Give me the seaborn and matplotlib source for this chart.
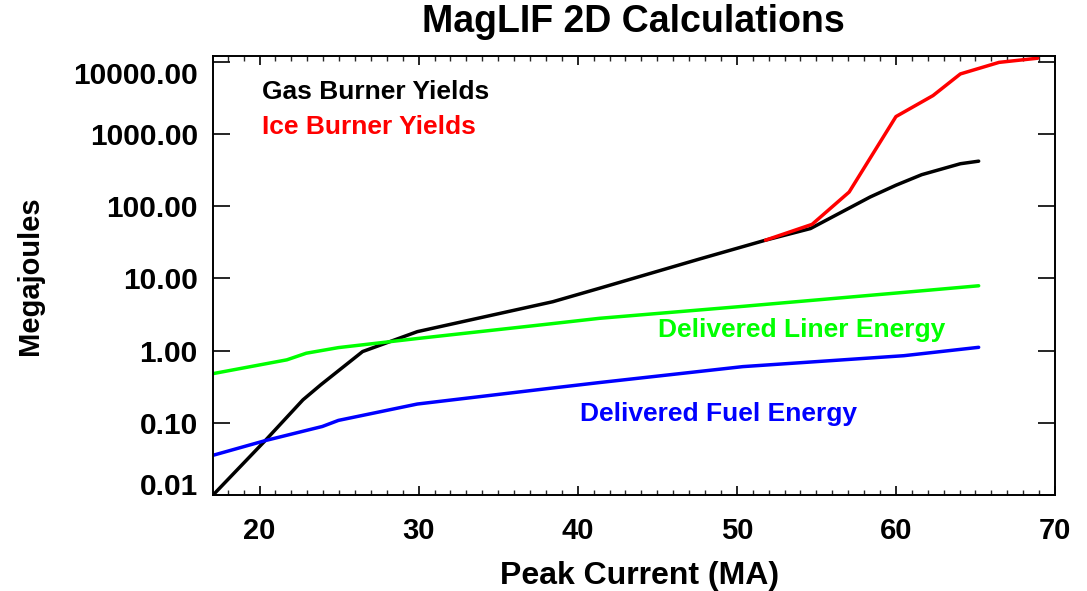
import numpy as np
import pandas as pd
import matplotlib
matplotlib.use("Agg")
import matplotlib.pyplot as plt
from matplotlib.ticker import FixedLocator, MultipleLocator, FuncFormatter, NullLocator
import seaborn as sns

# Gas burner yields (MJ) vs peak current (MA)
gas_current = [17.08, 20.4, 22.73, 23.85, 26.48, 29.92, 38.43, 41.37, 47.64, 51.8, 54.63, 58.38, 60.0, 61.62, 64.05, 65.2]
gas_yield = [0.01, 0.058, 0.208, 0.336, 0.97, 1.83, 4.75, 7.3, 18.5, 33.8, 49.0, 134.0, 195.0, 273.0, 387.0, 420.0]

# Ice burner yields (MJ)
ice_current = [51.8, 54.73, 57.06, 60.0, 62.33, 64.05, 66.48, 68.91]
ice_yield = [33.8, 56.0, 157.0, 1740.0, 3400.0, 6780.0, 9800.0, 11200.0]

# Delivered liner energy (MJ)
liner_current = [17.08, 21.72, 22.94, 24.96, 29.92, 38.23, 41.37, 50.38, 60.5, 65.2]
liner_energy = [0.48, 0.745, 0.92, 1.1, 1.47, 2.34, 2.8, 4.1, 6.4, 7.9]

# Delivered fuel energy (MJ)
fuel_current = [17.08, 20.4, 23.95, 24.96, 29.92, 38.23, 41.37, 50.38, 60.5, 65.2]
fuel_energy = [0.0355, 0.057, 0.089, 0.108, 0.182, 0.30, 0.361, 0.60, 0.85, 1.11]

x_ticks = [20, 30, 40, 50, 60, 70]
y_ticks = [0.01, 0.1, 1, 10, 100, 1000, 10000]

sns.set_theme(style="white")
plt.rcParams["font.family"] = ["Liberation Sans", "DejaVu Sans"]
plt.rcParams["font.weight"] = "bold"
plt.rcParams["text.color"] = "black"
plt.rcParams["axes.labelcolor"] = "black"

fig = plt.figure(figsize=(10.87, 5.91), dpi=100)
ax = fig.add_axes([0.196, 0.1624, 0.7746, 0.7428])

series = [
    (gas_current, gas_yield, "#000000"),
    (liner_current, liner_energy, "#00ff00"),
    (fuel_current, fuel_energy, "#0000ff"),
    (ice_current, ice_yield, "#ff0000"),
]
for xs, ys, col in series:
    df = pd.DataFrame({"current": xs, "energy": ys})
    sns.lineplot(data=df, x="current", y="energy", ax=ax, color=col,
                 linewidth=2.5, estimator=None, sort=False)

ax.set_yscale("log")
ax.set_xlim(17.08, 70)
ax.set_ylim(0.01, 12000)

ax.xaxis.set_major_locator(FixedLocator(x_ticks))
ax.xaxis.set_minor_locator(MultipleLocator(1))
ax.yaxis.set_major_locator(FixedLocator(y_ticks))
ax.yaxis.set_minor_locator(NullLocator())
ax.yaxis.set_major_formatter(FuncFormatter(lambda v, p: f"{v:.2f}"))
ax.xaxis.set_major_formatter(FuncFormatter(lambda v, p: f"{v:.0f}"))

ax.tick_params(axis="x", which="major", direction="in", length=6.5, width=1.2,
               top=True, bottom=True, labelsize=21, pad=16, colors="black")
ax.tick_params(axis="x", which="minor", direction="in", length=3.6, width=1.0,
               top=True, bottom=True)
ax.tick_params(axis="y", which="major", direction="in", length=12.2, width=1.2,
               left=True, right=True, labelsize=21.5, pad=11, colors="black")
for lab in ax.get_xticklabels() + ax.get_yticklabels():
    lab.set_fontweight("bold")

# keep the end labels of the y axis inside the frame height
yt = ax.yaxis.get_major_ticks()
yt[0].label1.set_va("baseline")
yt[-1].label1.set_va("top")

for sp in ax.spines.values():
    sp.set_color("black")
    sp.set_linewidth(1.4)

ax.set_xlabel("Peak Current (MA)", fontsize=23, fontweight="bold")
ax.set_ylabel("Megajoules", fontsize=21, fontweight="bold")
ax.xaxis.set_label_coords(0.507, -0.15)
ax.yaxis.set_label_coords(-0.217, 0.5)
ax.xaxis.label.set_va("top")
ax.yaxis.label.set_va("center")

fig.text(0.583, 0.962, "MagLIF 2D Calculations", fontsize=27, fontweight="bold",
         ha="center", va="center", color="black")

ax.text(20.16, 3860, "Gas Burner Yields", color="#000000", fontsize=19,
        fontweight="bold", va="center", ha="left")
ax.text(20.16, 1230, "Ice Burner Yields", color="#ff0000", fontsize=19,
        fontweight="bold", va="center", ha="left")
ax.text(45.06, 1.93, "Delivered Liner Energy", color="#00ff00", fontsize=19,
        fontweight="bold", va="center", ha="left")
ax.text(40.16, 0.134, "Delivered Fuel Energy", color="#0000ff", fontsize=19,
        fontweight="bold", va="center", ha="left")

fig.savefig("out.png", dpi=100, facecolor="white")
